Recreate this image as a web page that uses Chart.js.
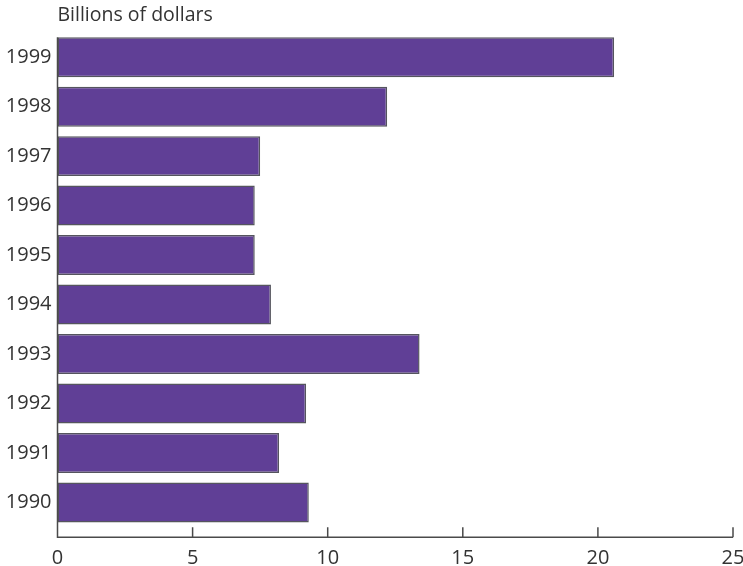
<!DOCTYPE html>
<html>
<head>
<meta charset="utf-8">
<script src="https://cdn.jsdelivr.net/npm/chart.js@4"></script>
<style>
  html, body { margin: 0; padding: 0; background: #fff; }
  #wrap { width: 743px; height: 566px; }
</style>
</head>
<body>
<div id="wrap"><canvas id="chart"></canvas></div>
<script>
// Data (billions of dollars)
const years = ['1999', '1998', '1997', '1996', '1995', '1994', '1993', '1992', '1991', '1990'];
const amounts = [20.6, 12.2, 7.5, 7.3, 7.3, 7.9, 13.4, 9.2, 8.2, 9.3];
const xTicks = [0, 5, 10, 15, 20, 25];

// Axis line with ticks pointing up, set a little below the last bar
const axisPlugin = {
    id: 'axisLines',
    afterDraw(chart) {
        const { ctx, chartArea } = chart;
        const x = chart.scales.x;
        const first = chart.getDatasetMeta(0).data[0];
        const top = first.y - first.height / 2;
        const base = chartArea.bottom + 10;
        ctx.save();
        ctx.strokeStyle = '#4a4a4a';
        ctx.lineWidth = 1.5;
        ctx.beginPath();
        ctx.moveTo(x.getPixelForValue(0), top);
        ctx.lineTo(x.getPixelForValue(0), base);
        ctx.lineTo(x.getPixelForValue(25), base);
        xTicks.forEach(function (v) {
            const px = x.getPixelForValue(v);
            ctx.moveTo(px, base);
            ctx.lineTo(px, base - 10);
        });
        ctx.stroke();
        ctx.restore();
    }
};

const ctx = document.getElementById('chart').getContext('2d');
new Chart(ctx, {
    type: 'bar',
    data: {
        labels: years,
        datasets: [{
            data: amounts,
            backgroundColor: '#603f96',
            borderColor: '#55555e',
            borderWidth: 1.5,
            borderSkipped: false,
            categoryPercentage: 1,
            barPercentage: 0.808
        }]
    },
    options: {
        indexAxis: 'y',
        responsive: true,
        maintainAspectRatio: false,
        animation: false,
        layout: { padding: 0 },
        plugins: {
            legend: { display: false },
            tooltip: { enabled: false },
            title: {
                display: true,
                text: 'Billions of dollars',
                align: 'start',
                fullSize: false,
                color: '#333',
                font: { family: 'Open Sans', size: 19.5, weight: 'normal', lineHeight: 1.2 },
                padding: { top: 4, bottom: 5 }
            }
        },
        scales: {
            x: {
                min: 0,
                max: 25,
                afterBuildTicks(scale) {
                    scale.ticks = xTicks.map(v => ({ value: v }));
                },
                afterFit(scale) {
                    scale.height = 38.7;
                    scale.paddingLeft = 0;
                    scale.paddingRight = 10;
                },
                grid: { display: false, drawTicks: false },
                border: { display: false },
                ticks: {
                    color: '#333',
                    padding: 19,
                    maxRotation: 0,
                    font: { family: 'Open Sans', size: 20, lineHeight: 1.2 }
                }
            },
            y: {
                offset: true,
                grid: { display: false, drawTicks: false },
                border: { display: false },
                afterFit(scale) {
                    scale.width = 57.5;
                    scale.paddingTop = 0;
                    scale.paddingBottom = 0;
                },
                ticks: {
                    color: '#333',
                    padding: 6,
                    font: { family: 'Open Sans', size: 20 }
                }
            }
        }
    },
    plugins: [axisPlugin]
});
</script>
</body>
</html>
